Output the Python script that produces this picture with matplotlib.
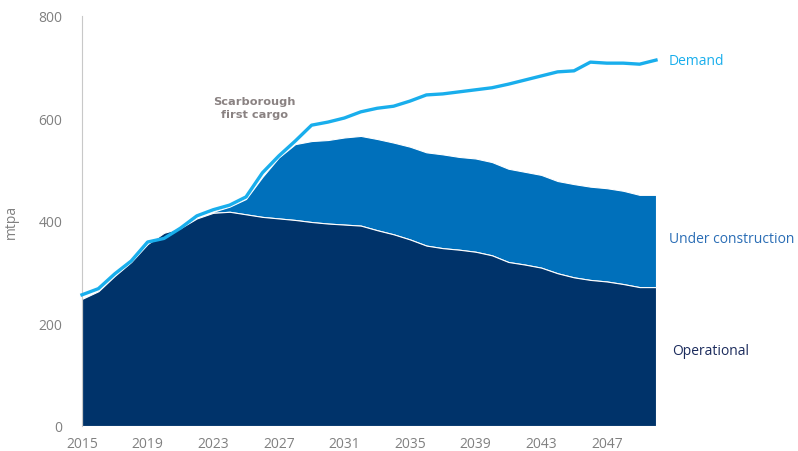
import matplotlib.pyplot as plt
import numpy as np

# LNG supply vs demand, mtpa, 2015-2050
years = np.arange(2015, 2051)

operational = [248, 263, 293, 320, 355, 377, 386, 405, 416, 418,
               413, 408, 405, 402, 398, 395, 393, 391, 382, 374,
               364, 352, 347, 344, 340, 333, 320, 315, 309, 298,
               290, 285, 282, 277, 271, 271]

# top of the "under construction" band (operational + under construction)
total_supply = [248, 263, 293, 320, 355, 377, 386, 405, 418, 428,
                443, 486, 524, 550, 556, 558, 563, 566, 560, 553,
                545, 534, 530, 525, 522, 515, 502, 496, 490, 478,
                472, 467, 464, 459, 451, 451]

demand = [256, 268, 297, 322, 359, 366, 386, 410, 422, 431,
          447, 494, 527, 556, 587, 593, 601, 613, 620, 624,
          634, 646, 648, 652, 656, 660, 667, 675, 683, 691,
          693, 710, 708, 708, 706, 714]

x_ticks = [2015, 2019, 2023, 2027, 2031, 2035, 2039, 2043, 2047]
y_ticks = [0, 200, 400, 600, 800]

DARK = "#00336A"
MID = "#0070BB"
LIGHT = "#19AEEC"
GREY = "#808080"

plt.rcParams['font.family'] = ['Open Sans', 'DejaVu Sans']

fig = plt.figure(figsize=(7.98, 4.52), dpi=100)
ax = fig.add_axes([82/798, 1 - 427/452, (656 - 82)/798, (427 - 17)/452])

ax.fill_between(years, 0, operational, color=DARK, edgecolor="white", linewidth=0.8, zorder=2)
ax.fill_between(years, operational, total_supply, color=MID, edgecolor="white", linewidth=0.8, zorder=1)
ax.plot(years, demand, color=LIGHT, linewidth=2.4, solid_joinstyle="round", zorder=3, clip_on=False)

ax.set_xlim(2015, 2050)
ax.set_ylim(0, 800)
ax.set_xticks(x_ticks)
ax.set_yticks(y_ticks)
ax.tick_params(length=0, labelsize=10, labelcolor=GREY)
ax.tick_params(axis="y", pad=14)
ax.tick_params(axis="x", pad=7)

for s in ["top", "right", "bottom"]:
    ax.spines[s].set_visible(False)
ax.spines["left"].set_color("#c8c8c8")
ax.spines["left"].set_linewidth(0.8)

ax.set_ylabel("mtpa", color=GREY, fontsize=10, labelpad=14)

# labels next to the series
ax.text(2050.8, 713, "Demand", color=LIGHT, fontsize=10, va="center", ha="left", clip_on=False)
ax.text(2050.8, 365, "Under construction", color="#2A6DB5", fontsize=10, va="center", ha="left", clip_on=False)
ax.text(2051.0, 148, "Operational", color="#1B2B5C", fontsize=10, va="center", ha="left", clip_on=False)

ax.text(2025.5, 622, "Scarborough\nfirst cargo", color="#8A8282", fontsize=8.2, fontweight="bold",
        family="DejaVu Sans", ha="center", va="center", linespacing=1.35)

fig.savefig("out.png", dpi=100)
